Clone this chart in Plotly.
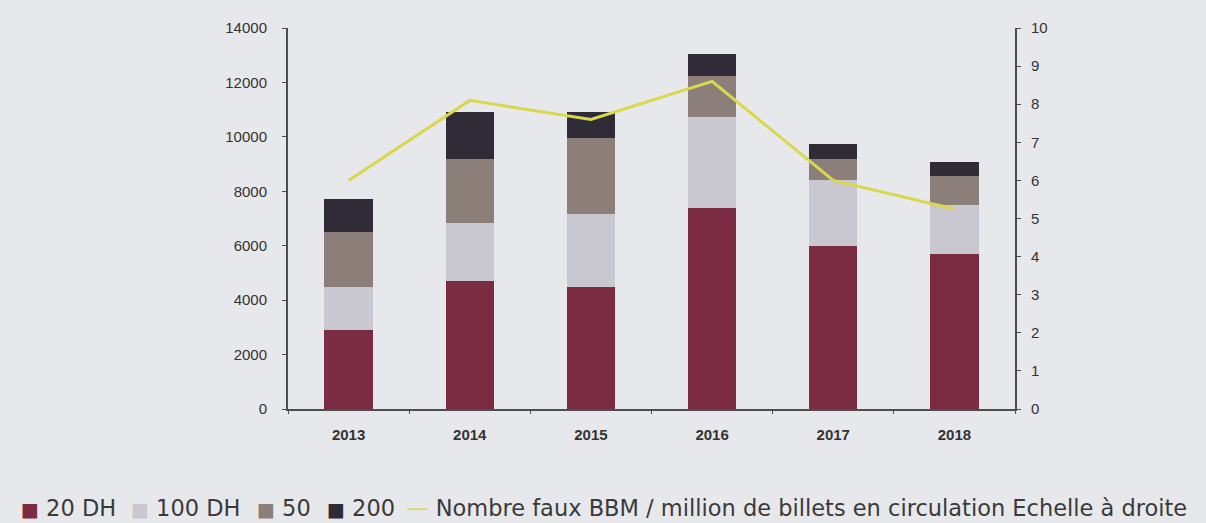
import plotly.graph_objects as go

years = ["2013", "2014", "2015", "2016", "2017", "2018"]
dh20 = [2900, 4700, 4500, 7400, 6000, 5700]
dh100 = [1600, 2150, 2680, 3320, 2400, 1800]
dh50 = [2000, 2350, 2780, 1510, 770, 1050]
dh200 = [1200, 1730, 965, 800, 580, 540]
faux_bbm = [6.0, 8.1, 7.6, 8.6, 6.0, 5.25]

series_names = ["20 DH", "100 DH", "50", "200"]
series_values = [dh20, dh100, dh50, dh200]
series_colors = ["#7b2c42", "#c9c8d1", "#8c7f7a", "#2f2c38"]
line_name = "Nombre faux BBM / million de billets en circulation Echelle à droite"
line_color = "#d9d84c"

font_family = "Liberation Sans, Arial"
legend_family = "DejaVu Sans, Liberation Sans, Arial"
bg = "#e7e8ec"

# plot-area pixel geometry
L, R_EDGE, T, B_EDGE = 288, 1015, 28, 409
W, H = 1206, 523

fig = go.Figure()
for name, vals, color in zip(series_names, series_values, series_colors):
    fig.add_trace(go.Bar(x=years, y=vals, name=name, marker_color=color,
                         marker_line_width=0, width=0.4, showlegend=False))

fig.add_trace(go.Scatter(x=years, y=faux_bbm, yaxis="y2", mode="lines",
                         name=line_name, showlegend=False,
                         line=dict(color=line_color, width=3)))

# legend drawn as a row of annotations
legend_px = [20, 130, 256, 326]
pw = R_EDGE - L
ph = B_EDGE - T
legend_y = (B_EDGE - 508) / ph
legend_font = dict(size=22.5, color="#3a3a3a", family=legend_family)
annotations = []
for name, color, px in zip(series_names, series_colors, legend_px):
    annotations.append(dict(
        x=(px - L) / pw, y=legend_y, xref="paper", yref="paper",
        xanchor="left", yanchor="middle", showarrow=False, borderpad=0,
        text=f"<span style='color:{color};font-size:19px'>■</span> {name}",
        font=legend_font))
annotations.append(dict(
    x=(405 - L) / pw, y=legend_y, xref="paper", yref="paper",
    xanchor="left", yanchor="middle", showarrow=False, borderpad=0,
    text=f"<span style='color:{line_color}'>—</span> {line_name}",
    font=legend_font))

fig.update_layout(
    width=W, height=H,
    barmode="stack",
    paper_bgcolor=bg,
    plot_bgcolor=bg,
    margin=dict(l=L, r=W - R_EDGE, t=T, b=H - B_EDGE, autoexpand=False),
    font=dict(family=font_family, color="#3a3a3a"),
    showlegend=False,
    annotations=annotations,
    xaxis=dict(type="category", range=[-0.5, 5.5], showgrid=False,
               showline=True, linecolor="#4d4d4d", linewidth=2,
               ticks="outside", ticklen=3, tickcolor="#4d4d4d", tickson="boundaries",
               ticklabelstandoff=11,
               tickfont=dict(size=15, color="#333", family=font_family, weight=600)),
    yaxis=dict(range=[0, 14000], dtick=2000, tickformat="d", showgrid=False, zeroline=False,
               showline=True, linecolor="#4d4d4d", linewidth=2,
               ticks="outside", ticklen=4, tickcolor="#4d4d4d",
               ticklabelstandoff=12,
               tickfont=dict(size=15, color="#333")),
    yaxis2=dict(range=[0, 10], dtick=1, overlaying="y", side="right",
                showgrid=False, zeroline=False,
                showline=True, linecolor="#4d4d4d", linewidth=2,
                ticks="outside", ticklen=4, tickcolor="#4d4d4d",
                ticklabelstandoff=7,
                tickfont=dict(size=15, color="#333")),
)

fig.write_html(
    "out.html",
    config={"displayModeBar": False},
    post_script=f"document.body.style.margin='0';document.body.style.background='{bg}';"
                "document.body.style.overflow='hidden';",
)
